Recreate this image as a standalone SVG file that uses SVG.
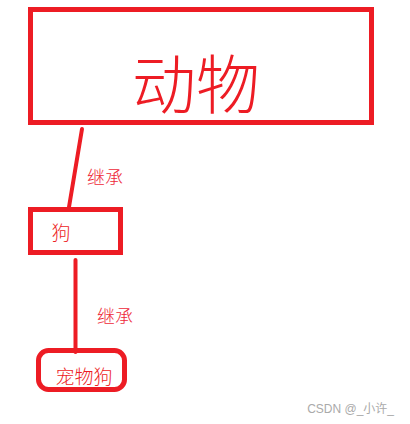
<svg xmlns="http://www.w3.org/2000/svg" width="410" height="424" viewBox="0 0 410 424">
<style>
.box{fill:none;stroke:#ed1c24;stroke-width:5}
.ln{stroke:#ed1c24;stroke-width:4;stroke-linecap:round;fill:none}
.t{font-family:"Noto Sans CJK SC","Noto Sans",sans-serif;fill:#ed1c24;font-weight:300}
.lbl{font-family:"Noto Sans CJK SC","Noto Sans",sans-serif;fill:#ee2a3a;font-size:18px;font-weight:300}
</style>
<rect width="410" height="424" fill="#ffffff"/>
<g id="connectors">
<line class="ln" x1="82" y1="129" x2="69" y2="207"/>
<text class="lbl" x="87" y="184">继承</text>
<line class="ln" x1="75.5" y1="260" x2="75.5" y2="352"/>
<text class="lbl" x="97" y="323">继承</text>
</g>
<g id="animal">
<rect class="box" x="30.5" y="9.5" width="341" height="113"/>
<text class="t" x="196" y="108" font-size="64" text-anchor="middle">动物</text>
</g>
<g id="dog">
<rect class="box" x="30.5" y="209.5" width="90" height="43"/>
<text class="t" x="61" y="240" font-size="19" text-anchor="middle">狗</text>
</g>
<g id="petdog">
<rect class="box" x="38.5" y="350.5" width="86" height="39" rx="10"/>
<text class="t" x="84" y="384" font-size="19" text-anchor="middle">宠物狗</text>
</g>
<text x="394" y="413" font-family="'Liberation Sans','Noto Sans CJK SC',sans-serif" font-size="12" fill="#aaaaaa" text-anchor="end">CSDN @_小许_</text>
</svg>
